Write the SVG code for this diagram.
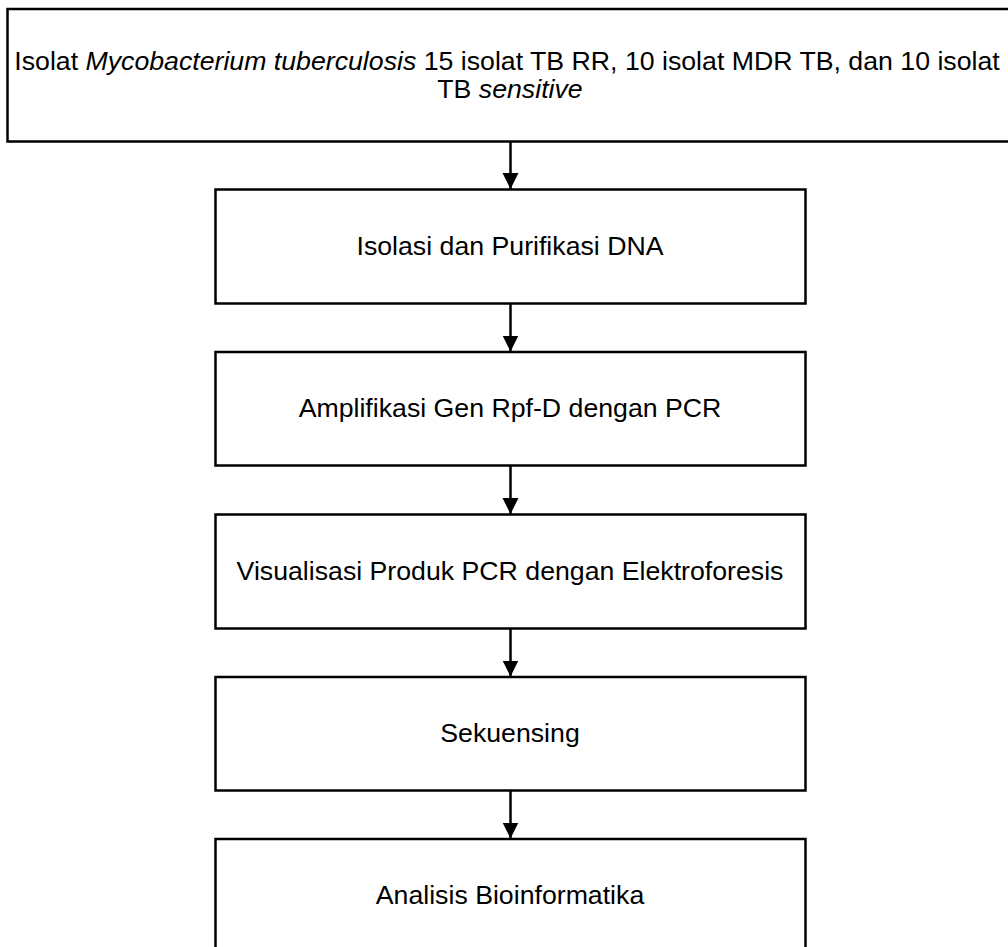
<svg xmlns="http://www.w3.org/2000/svg" width="1008" height="947" viewBox="0 0 1008 947">
<style>
.box{fill:#fff;stroke:#000;stroke-width:2.5}
.t{font-family:"Liberation Sans",Arial,sans-serif;font-size:26.7px;fill:#000;text-anchor:middle}
.c{stroke:#000;stroke-width:2.5;fill:none}
</style>
<defs>
<marker id="ah" markerUnits="userSpaceOnUse" markerWidth="16" markerHeight="17" refX="16" refY="8" orient="auto">
<path d="M0,0 L16,8 L0,16 Z" fill="#000"/>
</marker>
</defs>
<rect width="1008" height="947" fill="#fff"/>
<g id="n1"><rect class="box" x="7.5" y="9" width="1006" height="132.5"/>
<text class="t" x="507" y="69.5">Isolat <tspan font-style="italic">Mycobacterium tuberculosis</tspan> 15 isolat TB RR, 10 isolat MDR TB, dan 10 isolat</text>
<text class="t" x="510" y="98">TB <tspan font-style="italic">sensitive</tspan></text></g>
<g id="n2"><rect class="box" x="215.5" y="189.5" width="590" height="114"/><text class="t" x="510" y="255">Isolasi dan Purifikasi DNA</text></g>
<g id="n3"><rect class="box" x="215.5" y="352" width="590" height="113.5"/><text class="t" x="510" y="417">Amplifikasi Gen Rpf-D dengan PCR</text></g>
<g id="n4"><rect class="box" x="215.5" y="514.5" width="590" height="114"/><text class="t" x="510" y="579.5">Visualisasi Produk PCR dengan Elektroforesis</text></g>
<g id="n5"><rect class="box" x="215.5" y="677" width="590" height="113.5"/><text class="t" x="510" y="742">Sekuensing</text></g>
<g id="n6"><rect class="box" x="215.5" y="839" width="590" height="120"/><text class="t" x="510" y="904">Analisis Bioinformatika</text></g>
<g id="connectors">
<line class="c" x1="510.5" y1="142" x2="510.5" y2="189" marker-end="url(#ah)"/>
<line class="c" x1="510.5" y1="304" x2="510.5" y2="351.5" marker-end="url(#ah)"/>
<line class="c" x1="510.5" y1="466" x2="510.5" y2="514" marker-end="url(#ah)"/>
<line class="c" x1="510.5" y1="629" x2="510.5" y2="676.5" marker-end="url(#ah)"/>
<line class="c" x1="510.5" y1="791" x2="510.5" y2="838.5" marker-end="url(#ah)"/>
</g>
</svg>
